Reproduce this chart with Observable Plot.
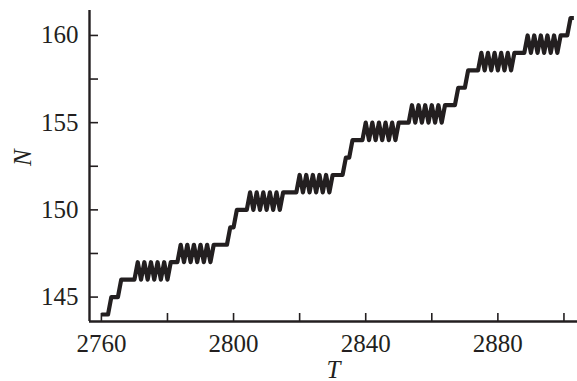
<!DOCTYPE html>
<html>
<head>
<meta charset="utf-8">
<script src="https://cdn.jsdelivr.net/npm/d3@7"></script>
<script src="https://cdn.jsdelivr.net/npm/@observablehq/plot@0.6"></script>
<style>
  html, body { margin: 0; padding: 0; background: #fff; }
  #chart svg { display: block; }
</style>
</head>
<body>
<div id="chart"></div>
<script>
const T = [
  2760,2761,2762,2763,2764,2765,2766,2767,2768,2769,
  2770,2771,2772,2773,2774,2775,2776,2777,2778,2779,
  2780,2781,2782,2783,2784,2785,2786,2787,2788,2789,
  2790,2791,2792,2793,2794,2795,2796,2797,2798,2799,
  2800,2801,2802,2803,2804,2805,2806,2807,2808,2809,
  2810,2811,2812,2813,2814,2815,2816,2817,2818,2819,
  2820,2821,2822,2823,2824,2825,2826,2827,2828,2829,
  2830,2831,2832,2833,2834,2835,2836,2837,2838,2839,
  2840,2841,2842,2843,2844,2845,2846,2847,2848,2849,
  2850,2851,2852,2853,2854,2855,2856,2857,2858,2859,
  2860,2861,2862,2863,2864,2865,2866,2867,2868,2869,
  2870,2871,2872,2873,2874,2875,2876,2877,2878,2879,
  2880,2881,2882,2883,2884,2885,2886,2887,2888,2889,
  2890,2891,2892,2893,2894,2895,2896,2897,2898,2899,
  2900,2901,2902,2903
];
const N = [
  144,144,144,145,145,145,146,146,146,146,
  146,147,146,147,146,147,146,147,146,147,
  146,147,147,147,148,147,148,147,148,147,
  148,147,148,147,148,148,148,148,148,149,
  149,150,150,150,150,151,150,151,150,151,
  150,151,150,151,150,151,151,151,151,151,
  152,151,152,151,152,151,152,151,152,151,
  152,152,152,152,153,153,154,154,154,154,
  155,154,155,154,155,154,155,154,155,154,
  155,155,155,155,156,155,156,155,156,155,
  156,155,156,155,156,156,156,156,157,157,
  157,158,158,158,158,159,158,159,158,159,
  158,159,158,159,158,159,159,159,159,160,
  159,160,159,160,159,160,159,160,159,160,
  160,160,161,161
];
const xTicksMajor = [2760, 2800, 2840, 2880];
const xTicksAll = [2760, 2780, 2800, 2820, 2840, 2860, 2880, 2900];
const yTicksMajor = [145, 150, 155, 160];
const yTicksAll = [145, 147.5, 150, 152.5, 155, 157.5, 160];
const xDomain = [2756.4, 2904.1];
const yDomain = [143.6, 161.43];

const data = T.map((t, i) => ({T: t, N: N[i]}));
const ink = "#231f20";
const font = "'Liberation Serif', 'Times New Roman', serif";

const chart = Plot.plot({
  width: 577,
  height: 381,
  marginLeft: 89,
  marginRight: 0,
  marginTop: 10,
  marginBottom: 60,
  style: {fontFamily: font, background: "#fff", color: ink},
  x: {domain: xDomain},
  y: {domain: yDomain},
  marks: [
    Plot.axisX({ticks: xTicksAll, tickSize: -8, tickFormat: () => "", strokeWidth: 1.6, stroke: ink, label: null}),
    Plot.axisY({ticks: yTicksAll, tickSize: -9, tickFormat: () => "", strokeWidth: 1.6, stroke: ink, label: null}),
    Plot.axisX({ticks: xTicksMajor, tickSize: 0, tickPadding: 13, fontSize: 25, fill: ink, label: null, tickFormat: d => String(d)}),
    Plot.axisY({ticks: yTicksMajor, tickSize: 0, tickPadding: 11, fontSize: 25, fill: ink, label: null, tickFormat: d => String(d)}),
    Plot.ruleX([xDomain[0]], {stroke: ink, strokeWidth: 2.4}),
    Plot.ruleY([yDomain[0]], {stroke: ink, strokeWidth: 2.4}),
    Plot.line(data, {x: "T", y: "N", stroke: ink, strokeWidth: 4.2, strokeLinejoin: "round", strokeLinecap: "butt"}),
    Plot.text(["N"], {frameAnchor: "left", dx: -67, rotate: -90, fontSize: 25, fontStyle: "italic", fill: ink, fontFamily: font}),
    Plot.text(["T"], {frameAnchor: "bottom", dy: 56, fontSize: 25, fontStyle: "italic", fill: ink, fontFamily: font})
  ]
});
document.getElementById("chart").appendChild(chart);
</script>
</body>
</html>
